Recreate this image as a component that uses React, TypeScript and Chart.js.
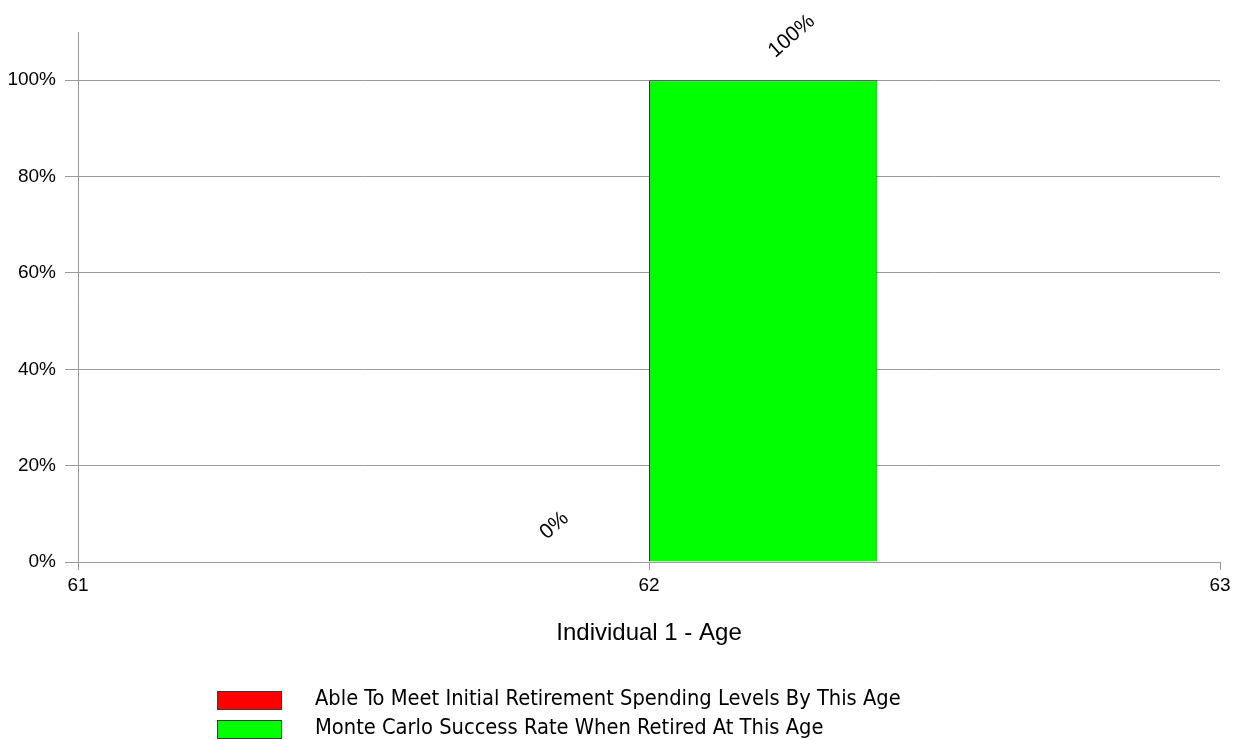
import React, { useEffect, useRef } from "react";
import { Chart, registerables } from "chart.js";

Chart.register(...registerables);

const ages = [62];
const seriesNames = [
  "Able To Meet Initial Retirement Spending Levels By This Age",
  "Monte Carlo Success Rate When Retired At This Age",
];
const spendingLevels = [0];
const successRates = [100];
const seriesColors = ["#ff0000", "#00ff00"];
const xTickRange = [61, 63];
const yTickMax = 110;
const xAxisTitle = "Individual 1 - Age";

const FONT = "'Liberation Sans', Arial, Helvetica, sans-serif";
const NARROW = "'Liberation Sans Narrow', 'Arial Narrow', 'DejaVu Sans Condensed', sans-serif";
const GRID = "#9a9a9a";

const valueLabels = {
  id: "valueLabels",
  afterDatasetsDraw(chart: any) {
    const ctx = chart.ctx;
    ctx.save();
    ctx.font = `21px ${FONT}`;
    ctx.fillStyle = "#000";
    ctx.textAlign = "left";
    ctx.textBaseline = "alphabetic";
    chart.data.datasets.forEach((ds: any, di: number) => {
      const meta = chart.getDatasetMeta(di);
      meta.data.forEach((el: any, i: number) => {
        const v = ds.data[i].y;
        ctx.save();
        ctx.translate(el.x + 12, el.y - 22);
        ctx.rotate((-41 * Math.PI) / 180);
        ctx.fillText(`${v}%`, 0, 0);
        ctx.restore();
      });
    });
    ctx.restore();
  },
};

const bottomLegend = {
  id: "bottomLegend",
  afterDraw(chart: any) {
    const ctx = chart.ctx;
    ctx.save();
    chart.data.datasets.forEach((ds: any, i: number) => {
      const top = 691 + i * 29;
      ctx.fillStyle = ds.backgroundColor;
      ctx.fillRect(217, top, 65, 19);
      ctx.strokeStyle = "#3a3a3a";
      ctx.lineWidth = 1;
      ctx.strokeRect(217.5, top + 0.5, 64, 18);
      ctx.fillStyle = "#000";
      ctx.font = `21.7px ${NARROW}`;
      ctx.textAlign = "left";
      ctx.textBaseline = "alphabetic";
      ctx.fillText(ds.label, 315, top + 14);
    });
    ctx.restore();
  },
};

export default function App() {
  const ref = useRef<HTMLCanvasElement>(null);
  useEffect(() => {
    document.body.style.margin = "0";
    const canvas = ref.current!;
    const chart = new Chart(canvas, {
      type: "bar",
      data: {
        datasets: [
          {
            label: seriesNames[0],
            data: ages.map((a, i) => ({ x: a, y: spendingLevels[i] })),
            backgroundColor: seriesColors[0],
            borderColor: "#333",
            borderWidth: 1,
          },
          {
            label: seriesNames[1],
            data: ages.map((a, i) => ({ x: a, y: successRates[i] })),
            backgroundColor: seriesColors[1],
            borderColor: "#333",
            borderWidth: 1,
          },
        ],
      },
      options: {
        animation: false,
        responsive: false,
        maintainAspectRatio: false,
        devicePixelRatio: 1,
        categoryPercentage: 0.8,
        barPercentage: 1.0,
        layout: { padding: { top: 32, right: 23, bottom: 92, left: 0 } },
        plugins: {
          legend: { display: false },
          tooltip: { enabled: false },
        },
        scales: {
          x: {
            type: "linear",
            min: xTickRange[0],
            max: xTickRange[1],
            offset: false,
            grid: {
              offset: false,
              drawOnChartArea: false,
              drawTicks: true,
              tickLength: 8,
              color: GRID,
            },
            border: { display: true, color: GRID },
            ticks: {
              stepSize: 1,
              padding: 4,
              color: "#000",
              font: { family: FONT, size: 19 },
              callback: (v: any) => String(v),
            },
            title: {
              display: true,
              text: xAxisTitle,
              color: "#000",
              font: { family: FONT, size: 24 },
              padding: { top: 0, bottom: 0 },
            },
            afterFit: (s: any) => {
              s.height = 86;
            },
          },
          y: {
            min: 0,
            max: yTickMax,
            grid: { color: GRID, tickLength: 13, drawTicks: true },
            border: { display: true, color: GRID },
            ticks: {
              stepSize: 20,
              padding: 9,
              color: "#000",
              font: { family: FONT, size: 19 },
              callback: (v: any) => `${v}%`,
            },
            afterBuildTicks: (s: any) => {
              s.ticks = s.ticks.filter((t: any) => t.value <= 100);
            },
            afterFit: (s: any) => {
              s.width = 78;
            },
          },
        },
      } as any,
      plugins: [valueLabels, bottomLegend],
    });
    return () => chart.destroy();
  }, []);
  return (
    <div style={{ width: 1243, height: 740 }}>
      <canvas ref={ref} width={1243} height={740} style={{ display: "block", width: 1243, height: 740 }} />
    </div>
  );
}
